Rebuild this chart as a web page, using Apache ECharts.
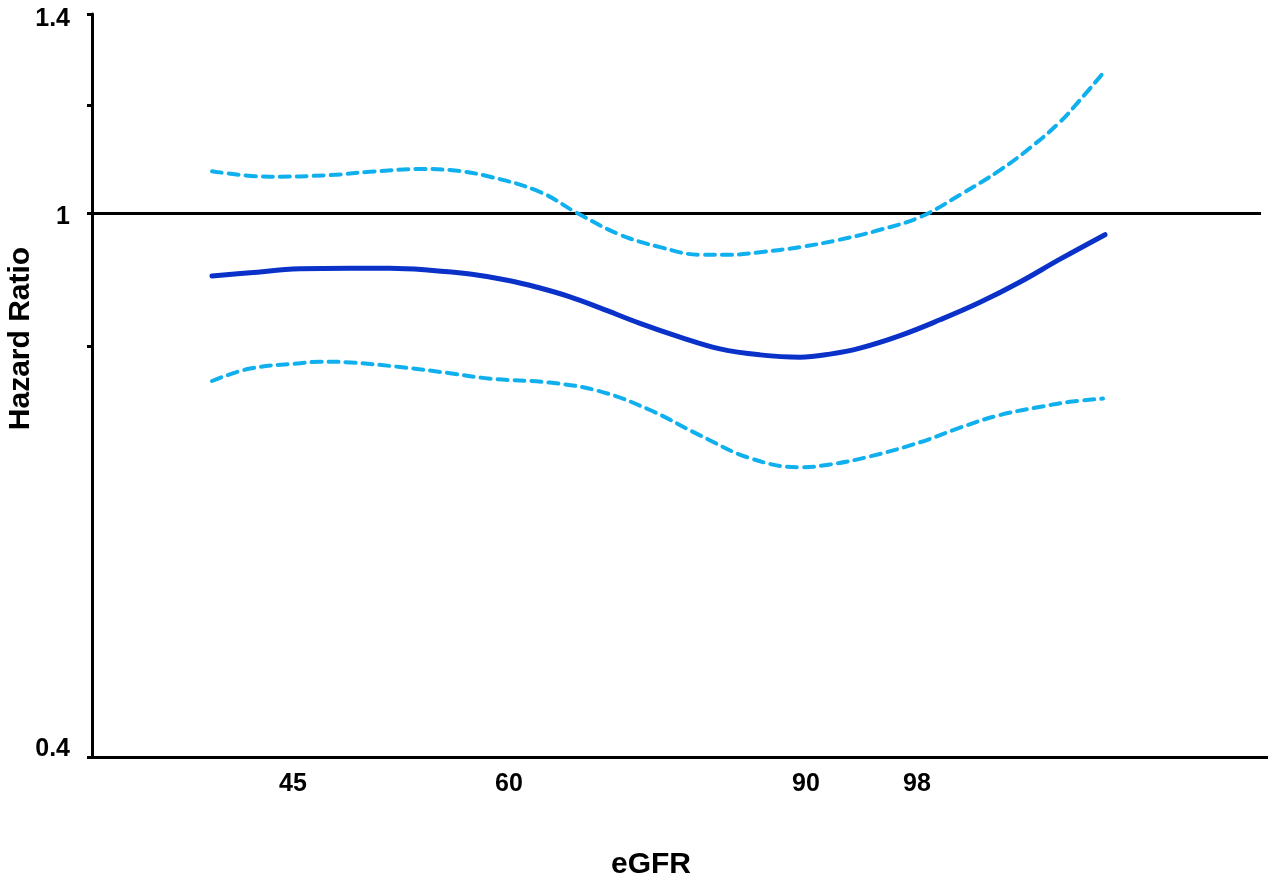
<!DOCTYPE html>
<html>
<head>
<meta charset="utf-8">
<script src="https://cdn.jsdelivr.net/npm/echarts@6/dist/echarts.min.js"></script>
<style>
html,body{margin:0;padding:0;background:#fff;}
#chart{width:1268px;height:883px;}
</style>
</head>
<body>
<div id="chart"></div>
<script>
// x positions are in axis units along the (non-linear) eGFR axis
var xTickPos = [20.1, 41.7, 71.4, 82.5];
var xTickLabels = ['45', '60', '90', '98'];
var yLabelValues = [0.4, 1, 1.4];
var yTickValues = [0.4, 0.8, 1, 1.2, 1.4];
var refValue = 1;
var refX = [0, 116.9];

var hrX = [12.0,15.8,20.8,25.8,29.8,33.8,37.8,41.8,44.8,47.8,50.8,54.8,58.8,62.8,66.8,70.8,73.8,76.8,80.8,84.8,88.8,92.8,96.8,101.3];
var hr  = [0.900,0.905,0.911,0.912,0.912,0.909,0.903,0.893,0.882,0.869,0.853,0.831,0.812,0.796,0.788,0.785,0.789,0.797,0.814,0.836,0.861,0.891,0.926,0.965];

var upperX = [12.0,17.8,23.8,27.8,32.8,35.8,39.8,44.8,48.5,52.8,56.8,60.8,63.8,66.8,70.8,74.8,78.8,82.8,86.8,90.8,93.8,96.8,98.8,101.1];
var upper  = [1.074,1.064,1.067,1.073,1.078,1.076,1.064,1.037,1.001,0.965,0.945,0.933,0.933,0.937,0.945,0.957,0.973,0.994,1.032,1.076,1.117,1.167,1.211,1.267];

var lowerX = [12.0,15.8,20.8,22.8,25.8,30.8,35.8,39.8,45.8,50.8,55.8,60.8,65.8,70.8,73.8,77.8,82.8,86.8,90.8,95.8,97.8,101.1];
var lower  = [0.754,0.770,0.777,0.779,0.778,0.772,0.764,0.757,0.752,0.741,0.718,0.688,0.662,0.652,0.655,0.664,0.680,0.697,0.712,0.724,0.728,0.732];

function pair(xs, ys){ return xs.map(function(x,i){ return [x, ys[i]]; }); }

var FONT = '"Liberation Sans", Arial, sans-serif';
var labelBase = { fontFamily: FONT, fontWeight: 'bold', fontSize: 25, color: '#000' };
var chart = echarts.init(document.getElementById('chart'));
chart.setOption({
  animation: false,
  backgroundColor: '#ffffff',
  grid: { left: 92, right: 0, top: 14, bottom: 126, containLabel: false, outerBoundsMode: 'none' },
  xAxis: {
    type: 'value', min: 0, max: 117.6,
    name: 'eGFR', nameLocation: 'middle', nameGap: 93, nameMoveOverlap: false,
    nameTextStyle: { fontFamily: FONT, fontWeight: 'bold', fontSize: 30, color: '#000', padding: [0, 58, 0, 0] },
    axisLine: { show: true, lineStyle: { color: '#000', width: 3 } },
    axisTick: { show: false },
    splitLine: { show: false },
    axisLabel: Object.assign({
      customValues: xTickPos,
      margin: 15,
      formatter: function(v){
        for (var i = 0; i < xTickPos.length; i++) if (Math.abs(xTickPos[i] - v) < 1e-6) return xTickLabels[i];
        return '';
      }
    }, labelBase)
  },
  yAxis: {
    type: 'log', logBase: 10, min: 0.4, max: 1.4,
    name: 'Hazard Ratio', nameLocation: 'middle', nameGap: 56, nameMoveOverlap: false,
    nameTextStyle: { fontFamily: FONT, fontWeight: 'bold', fontSize: 30, color: '#000', padding: [0, 0, 0, 94] },
    axisLine: { show: true, lineStyle: { color: '#000', width: 3 } },
    axisTick: { show: true, customValues: yTickValues, length: 5, lineStyle: { color: '#000', width: 3 } },
    minorTick: { show: false },
    splitLine: { show: false },
    axisLabel: Object.assign({
      customValues: yLabelValues,
      margin: 22,
      formatter: function(v){
        var s = String(+(+v).toFixed(2));
        if (s === '1.4') return '{t|' + s + '}';
        if (s === '0.4') return '{b|' + s + '}';
        return '{m|' + s + '}';
      },
      rich: {
        t: Object.assign({ padding: [10, 0, 0, 0] }, labelBase),
        m: Object.assign({ padding: [8, 0, 0, 0] }, labelBase),
        b: Object.assign({ padding: [0, 0, 16, 0] }, labelBase)
      }
    }, labelBase)
  },
  series: [
    {
      type: 'line', name: 'ref', data: refX.map(function(x){ return [x, refValue]; }),
      symbol: 'none', lineStyle: { color: '#000', width: 3 }, z: 1, silent: true
    },
    {
      type: 'line', name: 'upper', data: pair(upperX, upper), smooth: 0.4,
      symbol: 'none', lineStyle: { color: '#10b0ee', width: 4, type: [10, 7], cap: 'round' }, z: 2
    },
    {
      type: 'line', name: 'lower', data: pair(lowerX, lower), smooth: 0.4,
      symbol: 'none', lineStyle: { color: '#10b0ee', width: 4, type: [10, 7], cap: 'round' }, z: 2
    },
    {
      type: 'line', name: 'HR', data: pair(hrX, hr), smooth: 0.4,
      symbol: 'none', lineStyle: { color: '#0a32c8', width: 5, cap: 'round' }, z: 3
    }
  ]
});
</script>
</body>
</html>
